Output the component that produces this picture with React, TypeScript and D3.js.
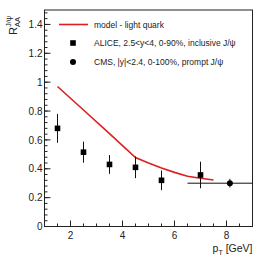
// RAA of J/psi vs pT: model curve with ALICE and CMS points
import * as d3 from 'd3';
import React from 'react';

// model - light quark (red curve)
const modelPt = [1.5, 2.5, 3.5, 4.5, 5.0, 5.5, 6.0, 6.5, 7.0, 7.5];
const modelRaa = [0.97, 0.807, 0.643, 0.478, 0.44, 0.405, 0.375, 0.348, 0.334, 0.322];

// ALICE, 2.5<y<4, 0-90%, inclusive J/psi
const alicePt = [1.5, 2.5, 3.5, 4.5, 5.5, 7.0];
const aliceRaa = [0.68, 0.515, 0.43, 0.41, 0.32, 0.357];
const aliceErr = [0.1, 0.073, 0.065, 0.075, 0.068, 0.092];

// CMS, |y|<2.4, 0-100%, prompt J/psi
const cmsPt = [8.13];
const cmsPtLow = [6.5];
const cmsPtHigh = [9];
const cmsRaa = [0.3];
const cmsErr = [0.03];

const legendLabels = [
  'model - light quark',
  'ALICE, 2.5<y<4, 0-90%, inclusive J/\u03c8',
  'CMS, |y|<2.4, 0-100%, prompt J/\u03c8',
];

const xTickLabels = ['2', '4', '6', '8'];
const yTickLabels = ['0', '0.2', '0.4', '0.6', '0.8', '1', '1.2', '1.4'];

const W = 266;
const H = 258;
const margin = { top: 10, right: 13.5, bottom: 31.5, left: 44.5 };
const FONT = 'Liberation Sans, Arial, Helvetica, sans-serif';
const RED = '#dd1f1f';

const App = () => {
  const x = d3
    .scaleLinear()
    .domain([1, 9])
    .range([margin.left, W - margin.right]);
  const y = d3
    .scaleLinear()
    .domain([0, 1.5])
    .range([H - margin.bottom, margin.top]);

  const line = d3
    .line<number>()
    .x((d, i) => x(modelPt[i]))
    .y((d) => y(d));

  //minor ticks every 0.5 on x and 0.04 on y
  const xMinor = d3.range(1, 9.01, 0.5);
  const yMinor = d3.range(0, 1.501, 0.04);

  const x0 = x.range()[0];
  const x1 = x.range()[1];
  const y0 = y.range()[0];
  const y1 = y.range()[1];

  return (
    <svg
      width={W}
      height={H}
      style={{ position: 'absolute', left: 0, top: 0, background: '#fff' }}
      fontFamily={FONT}
    >
      {/* frame */}
      <rect x={x0} y={y1} width={x1 - x0} height={y0 - y1} fill="none" stroke="#222" strokeWidth={1} />

      {/* y ticks */}
      {yMinor.map((v, i) => (
        <line key={'ym' + i} x1={x0} x2={x0 + 3} y1={y(v)} y2={y(v)} stroke="#222" />
      ))}
      {yTickLabels.map((t) => (
        <g key={'yt' + t}>
          <line x1={x0} x2={x0 + 6} y1={y(+t)} y2={y(+t)} stroke="#222" />
          <text x={x0 - 2} y={y(+t) + 3.6} textAnchor="end" fontSize={10} fill="#222">
            {t}
          </text>
        </g>
      ))}

      {/* x ticks */}
      {xMinor.map((v, i) => (
        <line key={'xm' + i} x1={x(v)} x2={x(v)} y1={y0} y2={y0 - 3} stroke="#222" />
      ))}
      {xTickLabels.map((t) => (
        <g key={'xt' + t}>
          <line x1={x(+t)} x2={x(+t)} y1={y0} y2={y0 - 6} stroke="#222" />
          <text x={x(+t)} y={y0 + 12.5} textAnchor="middle" fontSize={10} fill="#222">
            {t}
          </text>
        </g>
      ))}

      {/* axis titles */}
      <text x={x1} y={H - 6} textAnchor="end" fontSize={10.5} fill="#222">
        p
        <tspan fontSize={7} dy={3}>T</tspan>
        <tspan dy={-3}> [GeV]</tspan>
      </text>
      <g transform="rotate(-90)" fill="#222">
        <text x={-35} y={17} fontSize={11}>R</text>
        <text x={-27} y={10.5} fontSize={7.5}>{'J/\u03c8'}</text>
        <text x={-27} y={19.5} fontSize={7.5}>AA</text>
      </g>

      {/* model curve */}
      <path d={line(modelRaa) || ''} fill="none" stroke={RED} strokeWidth={1.6} />

      {/* CMS point */}
      {cmsRaa.map((v, i) => (
        <g key={'cms' + i}>
          <line x1={x(cmsPtLow[i])} x2={x(cmsPtHigh[i])} y1={y(v)} y2={y(v)} stroke="#111" />
          <line x1={x(cmsPt[i])} x2={x(cmsPt[i])} y1={y(v - cmsErr[i])} y2={y(v + cmsErr[i])} stroke="#111" />
          <circle cx={x(cmsPt[i])} cy={y(v)} r={3} fill="#000" />
        </g>
      ))}

      {/* ALICE points */}
      {aliceRaa.map((v, i) => (
        <g key={'alice' + i}>
          <line
            x1={x(alicePt[i])}
            x2={x(alicePt[i])}
            y1={y(v - aliceErr[i])}
            y2={y(v + aliceErr[i])}
            stroke="#111"
          />
          <rect x={x(alicePt[i]) - 2.8} y={y(v) - 2.8} width={5.6} height={5.6} fill="#000" />
        </g>
      ))}

      {/* legend */}
      <line x1={59} x2={88} y1={24.5} y2={24.5} stroke={RED} strokeWidth={1.6} />
      <rect x={73 - 2.8} y={43 - 2.8} width={5.6} height={5.6} fill="#000" />
      <circle cx={73} cy={62} r={3} fill="#000" />
      {legendLabels.map((t, i) => (
        <text key={t} x={94} y={27.5 + i * 18.8} fontSize={8.5} fill="#222">
          {t}
        </text>
      ))}
    </svg>
  );
};

export default App;
